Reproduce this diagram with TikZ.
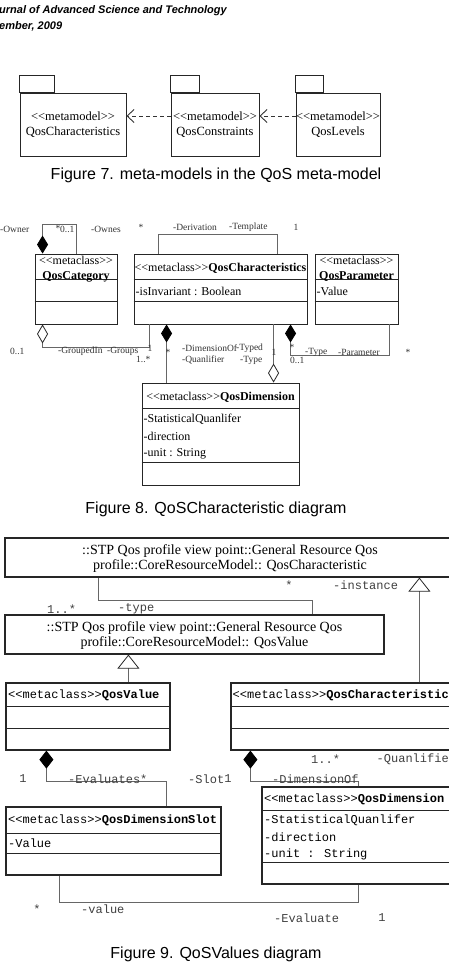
\documentclass[tikz,border=0pt]{standalone}
\usepackage{fontspec}
\setmainfont{Liberation Serif}
\newfontfamily\monof{Liberation Mono}
\newfontfamily\sansf{Liberation Sans}
\usetikzlibrary{arrows.meta}
\newcommand\mcl{<{}<metaclass>{}>}
\newcommand\mmd{<{}<metamodel>{}>}
\begin{document}
\begin{tikzpicture}[x=1pt,y=-1pt,
  box/.style={draw=black!85, line width=0.9pt, inner sep=0pt},
  bbox/.style={draw=black!85, line width=1.2pt, inner sep=0pt},
  pkg/.style={draw=black!85, line width=0.9pt, inner sep=0pt, align=center, font=\fontsize{12.5}{15}\selectfont},
  pkgtab/.style={draw=black!85, line width=0.9pt},
  conn/.style={draw=black!60, line width=0.8pt},
  dep/.style={draw=black!80, line width=0.9pt, dash pattern=on 4pt off 3pt, -{Straight Barb[length=7pt,width=13pt]}},
  lbl/.style={inner sep=0pt, font=\fontsize{9.5}{10}\selectfont, text=black!80},
  mlbl/.style={inner sep=0pt, font=\monof\fontsize{12}{13}\selectfont, text=black!75},
  captxt/.style={inner sep=0pt, font=\sansf\fontsize{16}{18}\selectfont},
  ctext/.style={inner sep=0pt, font=\fontsize{12}{13}\selectfont},
  btext/.style={inner sep=0pt, font=\bfseries\fontsize{12}{13}\selectfont},
  stext/.style={inner sep=0pt, align=center, font=\fontsize{14}{15.5}\selectfont},
  mtext/.style={inner sep=0pt, anchor=west, font=\monof\fontsize{12}{13}\selectfont},
  hdr/.style={inner sep=0pt, anchor=west, font=\sansf\bfseries\itshape\fontsize{11}{12}\selectfont},
  fdia/.style={-{Diamond[length=18pt,width=11pt,fill=black,color=black]}},
  fdib/.style={-{Diamond[length=18pt,width=14pt,fill=black,color=black]}},
  odia/.style={-{Diamond[open,length=19pt,width=11pt,fill=white,color=black!85]}},
  gen/.style={conn, -{Triangle[open,length=14pt,width=22pt,fill=white,color=black!85]}},
]
\useasboundingbox (0,0) rectangle (449,980);
\clip (0,0) rectangle (449,980);
\fill[white] (0,0) rectangle (449,980);

% header
\node[hdr] (h1) at (-1,11) {urnal of Advanced Science and Technology};
\node[hdr] (h2) at (-1,26) {ember, 2009};

% ---------- Figure 7 ----------
\node[pkg, minimum width=106pt, minimum height=63pt] (p1) at (73,124.5) {\mmd\\QosCharacteristics};
\draw[pkgtab] (p1.north west) rectangle ++(35,-17);
\node[pkg, minimum width=88pt, minimum height=63pt] (p2) at (215,124.5) {\mmd\\QosConstraints};
\draw[pkgtab] (p2.north west) rectangle ++(29,-17);
\node[pkg, minimum width=84pt, minimum height=63pt] (p3) at (338,124.5) {\mmd\\QosLevels};
\draw[pkgtab] (p3.north west) rectangle ++(28,-17);
\coordinate (ay) at (0,116);
\draw[dep] (p2.west |- ay) -- (p1.east |- ay);
\draw[dep] (p3.west |- ay) -- (p2.east |- ay);
\node[captxt] (c7) at (216,175) {Figure 7. meta-models in the QoS meta-model};

% ---------- Figure 8 ----------
\node[box, minimum width=82pt, minimum height=70pt] (cat) at (76,289) {};
\draw[box] ([yshift=-26pt]cat.north west) -- ([yshift=-26pt]cat.north east);
\draw[box] ([yshift=-48pt]cat.north west) -- ([yshift=-48pt]cat.north east);
\node[ctext] (catst) at (76,260) {\mcl};
\node[btext] (catnm) at (76,276.5) {QosCategory};

\node[box, minimum width=173pt, minimum height=70pt] (chr) at (220.5,289) {};
\draw[box] ([yshift=-26pt]chr.north west) -- ([yshift=-26pt]chr.north east);
\draw[box] ([yshift=-48pt]chr.north west) -- ([yshift=-48pt]chr.north east);
\node[ctext] (chrt) at (220.5,268) {\mcl\textbf{QosCharacteristics}};
\node[ctext, anchor=west] (chra) at (135.5,291) {-isInvariant : Boolean};

\node[box, minimum width=83pt, minimum height=70pt] (par) at (356.5,289) {};
\draw[box] ([yshift=-26pt]par.north west) -- ([yshift=-26pt]par.north east);
\draw[box] ([yshift=-48pt]par.north west) -- ([yshift=-48pt]par.north east);
\node[ctext] (parst) at (356.5,260) {\mcl};
\node[btext] (parnm) at (356.5,276.5) {QosParameter};
\node[ctext, anchor=west] (para) at (316.5,291) {-Value};

\node[box, minimum width=157pt, minimum height=102pt] (dim) at (220.5,434) {};
\draw[box] ([yshift=-26pt]dim.north west) -- ([yshift=-26pt]dim.north east);
\draw[box] ([yshift=-80pt]dim.north west) -- ([yshift=-80pt]dim.north east);
\node[ctext] (dimt) at (220.5,397) {\mcl\textbf{QosDimension}};
\node[ctext, anchor=west] (dima1) at (143.5,419.5) {-StatisticalQuanlifer};
\node[ctext, anchor=west] (dima2) at (143.5,436.5) {-direction};
\node[ctext, anchor=west] (dima3) at (143.5,453.5) {-unit : String};

% connectors fig 8
\draw[conn, fdia] (cat.north) -- ++(0,-29) -| ([xshift=8pt]cat.north west);
\draw[conn, odia] ([xshift=16pt]chr.south west) -- ++(0,23) -| ([xshift=8pt]cat.south west);
\draw[conn] ([xshift=25pt]chr.north west) -- ++(0,-19) -| ([xshift=144pt]chr.north west);
\draw[conn, fdia] ([xshift=25pt]dim.north west) -- ([xshift=33pt]chr.south west);
\draw[conn, odia] ([xshift=140pt]chr.south west) -- ([xshift=132pt]dim.north west);
\draw[conn, fdia] ([xshift=75pt]par.south west) -- ++(0,31) -| ([xshift=157pt]chr.south west);

% labels fig 8
\node[lbl, anchor=west] (l1) at (0,229) {-Owner};
\node[lbl, anchor=west] (l2) at (60,229) {0..1};
\node[lbl] (l3) at (58,228) {*};
\node[lbl, anchor=west] (l4) at (91,229) {-Ownes};
\node[lbl] (l5) at (141,227) {*};
\node[lbl, anchor=west] (l6) at (173,227) {-Derivation};
\node[lbl, anchor=west] (l7) at (229,227) {-Template};
\node[lbl] (l8) at (296,227) {1};
\node[lbl, anchor=west] (l9) at (10,351) {0..1};
\node[lbl, anchor=west] (l10) at (58,351) {-GroupedIn};
\node[lbl, anchor=west] (l11) at (107,351) {-Groups};
\node[lbl] (l12) at (150,348) {1};
\node[lbl, anchor=west] (l13) at (136,359) {1..*};
\node[lbl] (l14) at (168,352) {*};
\node[lbl, anchor=west] (l15) at (182,348) {-DimensionOf};
\node[lbl, anchor=west] (l16) at (236,348) {-Typed};
\node[lbl, anchor=west] (l17) at (182,360) {-Quanlifier};
\node[lbl, anchor=west] (l18) at (240,360) {-Type};
\node[lbl] (l19) at (274,352) {1};
\node[lbl] (l20) at (292,347) {*};
\node[lbl, anchor=west] (l21) at (290,360) {0..1};
\node[lbl, anchor=west] (l22) at (305,352) {-Type};
\node[lbl, anchor=west] (l23) at (338,352) {-Parameter};
\node[lbl] (l24) at (408,352) {*};

\node[captxt] (c8) at (216,509) {Figure 8. QoSCharacteristic diagram};

% ---------- Figure 9 ----------
\node[bbox, minimum width=455pt, minimum height=39pt] (qc0) at (232.5,557.5) {};
\node[stext] (qc0t) at (230,558.5) {::STP Qos profile view point::General Resource Qos\\profile::CoreResourceModel:: QosCharacteristic};
\node[bbox, minimum width=379pt, minimum height=39pt] (qv0) at (194.5,634.5) {};
\node[stext] (qv0t) at (194.5,635.5) {::STP Qos profile view point::General Resource Qos\\profile::CoreResourceModel:: QosValue};

\node[bbox, minimum width=164pt, minimum height=67pt] (qv) at (88,716.5) {};
\draw[bbox] ([yshift=-24pt]qv.north west) -- ([yshift=-24pt]qv.north east);
\draw[bbox] ([yshift=-46pt]qv.north west) -- ([yshift=-46pt]qv.north east);
\node[mtext] (qvt) at (8,695.5) {\mcl\textbf{QosValue}};

\node[bbox, minimum width=229pt, minimum height=67pt] (qcm) at (345.5,716.5) {};
\draw[bbox] ([yshift=-24pt]qcm.north west) -- ([yshift=-24pt]qcm.north east);
\draw[bbox] ([yshift=-46pt]qcm.north west) -- ([yshift=-46pt]qcm.north east);
\node[mtext] (qcmt) at (232.5,695.5) {\mcl\textbf{QosCharacteristic}};

\node[bbox, minimum width=215pt, minimum height=68pt] (slot) at (113.5,841) {};
\draw[bbox] ([yshift=-27pt]slot.north west) -- ([yshift=-27pt]slot.north east);
\draw[bbox] ([yshift=-47pt]slot.north west) -- ([yshift=-47pt]slot.north east);
\node[mtext] (slott) at (8,820.5) {\mcl\textbf{QosDimensionSlot}};
\node[mtext] (slota) at (8,843.5) {-Value};

\node[bbox, minimum width=198pt, minimum height=97pt] (qdm) at (361,835.5) {};
\draw[bbox] ([yshift=-24pt]qdm.north west) -- ([yshift=-24pt]qdm.north east);
\draw[bbox] ([yshift=-76pt]qdm.north west) -- ([yshift=-76pt]qdm.north east);
\node[mtext] (qdmt) at (264,799.5) {\mcl\textbf{QosDimension}};
\node[mtext] (qdma1) at (264,820.5) {-StatisticalQuanlifer};
\node[mtext] (qdma2) at (264,837.5) {-direction};
\node[mtext] (qdma3) at (264,854.5) {-unit : String};

% connectors fig 9
\draw[conn] ([xshift=94pt]qc0.south west) -- ++(0,23) -| ([xshift=308pt]qv0.north west);
\coordinate (g1) at ([xshift=123pt]qv.north west);
\draw[gen] (g1) -- (g1 |- qv0.south);
\coordinate (g2) at ([xshift=189pt]qcm.north west);
\draw[gen] (g2) -- (g2 |- qc0.south);
\draw[conn, fdib] ([xshift=161pt]slot.north west) -- ++(0,-25) -| ([xshift=41pt]qv.south west);
\draw[conn, fdib] ([xshift=97pt]qdm.north west) -- ++(0,-5) -| ([xshift=20pt]qcm.south west);
\draw[conn] ([xshift=54pt]slot.south west) -- ++(0,27) -| ([xshift=97pt]qdm.south west);

% labels fig 9
\node[mlbl] (m1) at (289,585) {*};
\node[mlbl, anchor=west] (m2) at (333,585) {-instance};
\node[mlbl, anchor=west] (m3) at (47,609) {1..*};
\node[mlbl, anchor=west] (m4) at (118,609) {-type};
\node[mlbl] (m5) at (23,779) {1};
\node[mlbl, anchor=west] (m6) at (68,779) {-Evaluates*};
\node[mlbl, anchor=west] (m7) at (188,779) {-Slot};
\node[mlbl] (m8) at (228,779) {1};
\node[mlbl, anchor=west] (m9) at (311,759) {1..*};
\node[mlbl, anchor=west] (m10) at (376.5,759) {-Quanlifie};
\node[mlbl, anchor=west] (m11) at (272,779) {-DimensionOf};
\node[mlbl] (m12) at (37,909) {*};
\node[mlbl, anchor=west] (m13) at (81,909) {-value};
\node[mlbl, anchor=west] (m14) at (274,918) {-Evaluate};
\node[mlbl] (m15) at (382,918) {1};

\node[captxt] (c9) at (216,954) {Figure 9. QoSValues diagram};
\end{tikzpicture}
\end{document}
